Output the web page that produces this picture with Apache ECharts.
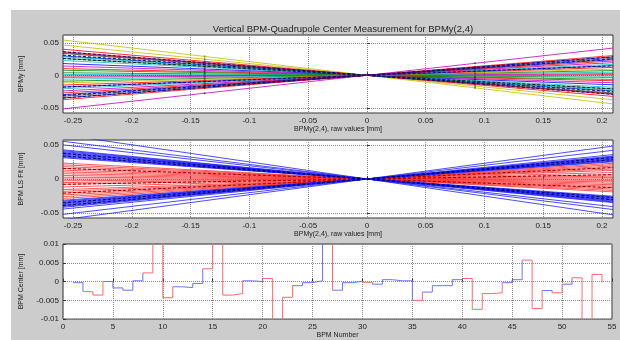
<!DOCTYPE html>
<html>
<head>
<meta charset="utf-8">
<script src="https://cdn.jsdelivr.net/npm/echarts@6/dist/echarts.min.js"></script>
<style>
  body { margin: 0; background: #fff; }
  #bg { position: absolute; left: 11px; top: 10px; width: 609px; height: 330px; background: #cccccc; }
  #chart { position: absolute; left: 0; top: 0; width: 620px; height: 340px; }
</style>
</head>
<body>
<div id="bg"></div>
<div id="chart"></div>
<script>
// x range of the two upper panels
const xRange = [-0.2585, 0.2094]
const markerX = [-0.138, 0.092]

// top panel: raw BPM readings, slope and colour of each line
const topSlopes = [-0.21, -0.18, -0.155, -0.14, -0.135, -0.13, -0.115, -0.11, -0.1, -0.088,
  -0.07, -0.055, -0.04, -0.03, -0.015, -0.005, 0.004, 0.012, 0.023, 0.035, 0.045,
  0.058, 0.07, 0.08, 0.093, 0.105, 0.115, 0.125, 0.135, 0.145, 0.2]
const topColors = ['y', 'y', 'r', 'm', 'r', 'k', 'b', 'c', 'g', 'c',
  'b', 'm', 'r', 'g', 'g', 'c', 'r', 'm', 'c', 'g', 'y',
  'r', 'b', 'c', 'm', 'r', 'b', 'k', 'b', 'r', 'm']
const topDashed = [-0.14, -0.12, -0.1, 0.07, 0.12, 0.135]
const matlab = { b: '#0000ff', g: '#008000', r: '#ff0000', c: '#00bfbf', m: '#bf00bf', y: '#bfbf00', k: '#404040' }

// middle panel: LS fit lines
const midBlue = [-0.25, -0.213, -0.193, -0.165, -0.16, -0.155, -0.15, -0.145, -0.14, -0.135,
  -0.13, -0.125, -0.12, 0.12, 0.125, 0.13, 0.135, 0.14, 0.145, 0.15, 0.155, 0.16, 0.17, 0.2, 0.23]
const midBlueDashed = [-0.145, -0.13, 0.135, 0.15]
const midRed = [-0.09, -0.08, -0.07, -0.06, -0.05, -0.04, -0.03, -0.02, -0.01, 0, 0.01,
  0.02, 0.03, 0.045, 0.06, 0.07, 0.08, 0.09, 0.1, 0.11]
const midRedDashed = [-0.06, 0.03, 0.08]

// bottom panel: BPM centre per BPM number (1..54), r = red, b = blue
const bpmCenter = [-0.0003, -0.0027, -0.0036, 0.0000, -0.0017, -0.0023, 0.0002, 0.0023, 0.02, -0.0043,
  -0.0014, -0.0016, -0.0005, 0.0034, 0.02, -0.0036, -0.0032, 0.0002, 0.0000, 0.0008,
  -0.02, -0.0042, -0.0011, -0.0003, 0.0002, 0.02, -0.0023, -0.0003, 0.0001, -0.0002,
  -0.0007, 0.0005, 0.0002, 0.0002, -0.005, -0.0028, -0.0011, -0.0011, 0.0005, 0.0008,
  -0.0074, -0.0032, -0.003, -0.0003, 0.0005, 0.0057, -0.0072, -0.0024, -0.003, -0.0007,
  0.001, -0.02, 0.0019, -0.0003]
const bpmFlag = ['b', 'r', 'r', 'b', 'b', 'b', 'b', 'r', 'r', 'r',
  'b', 'b', 'b', 'r', 'r', 'r', 'r', 'b', 'b', 'r',
  'r', 'r', 'b', 'b', 'b', 'r', 'b', 'b', 'b', 'r',
  'b', 'b', 'b', 'b', 'r', 'b', 'b', 'b', 'b', 'r',
  'r', 'r', 'r', 'b', 'b', 'r', 'r', 'b', 'r', 'b',
  'r', 'r', 'r', 'r']

const font = 'Liberation Sans'
const txt = '#222'

function fitLine(s, color, idx, dashed, width) {
  return {
    type: 'line', xAxisIndex: idx, yAxisIndex: idx,
    data: [[xRange[0], s * xRange[0]], [xRange[1], s * xRange[1]]],
    showSymbol: false, silent: true, animation: false,
    lineStyle: { color: color, width: width || 1, type: dashed ? [3, 2] : 'solid' }
  }
}

const series = []
topSlopes.forEach((s, i) => series.push(fitLine(s, matlab[topColors[i]], 0, false, 0.8)))
topDashed.forEach(s => series.push(fitLine(s, '#10105a', 0, true, 1)))
series.push({
  type: 'scatter', xAxisIndex: 0, yAxisIndex: 0, silent: true, animation: false,
  symbolSize: 2, itemStyle: { color: '#202040' },
  data: topSlopes.flatMap(s => markerX.map(x => [x, s * x]))
})
midRed.forEach(s => series.push(fitLine(s, '#ff3030', 1, false, 0.8)))
midRedDashed.forEach(s => series.push(fitLine(s, '#900000', 1, true, 1)))
midBlue.forEach(s => series.push(fitLine(s, '#2020ff', 1, false, 0.8)))
midBlueDashed.forEach(s => series.push(fitLine(s, '#000070', 1, true, 1)))

// stairs split into runs of the same colour
let start = 0
for (let i = 1; i <= bpmFlag.length; i++) {
  if (i === bpmFlag.length || bpmFlag[i] !== bpmFlag[start]) {
    const data = []
    for (let k = start; k <= Math.min(i, bpmCenter.length - 1); k++) data.push([k + 1, bpmCenter[k]])
    series.push({
      type: 'line', xAxisIndex: 2, yAxisIndex: 2, step: 'end', data: data,
      showSymbol: false, silent: true, animation: false,
      lineStyle: { color: bpmFlag[start] === 'r' ? '#ff6a6a' : '#7070ff', width: 1 }
    })
    start = i
  }
}

const axisCommon = {
  axisLine: { show: false },
  axisTick: { show: true, inside: true, length: 3, lineStyle: { color: '#333' } },
  splitLine: { show: true, lineStyle: { color: '#8a8a8a', type: 'dotted', width: 1 } },
  axisLabel: { color: txt, fontSize: 8, fontFamily: font, margin: 4 },
  nameTextStyle: { color: txt, fontSize: 7, fontFamily: font }
}

function xAx(idx, extra) {
  return Object.assign({ type: 'value', gridIndex: idx, nameLocation: 'middle' }, axisCommon, extra)
}
function yAx(idx, extra) {
  return Object.assign({ type: 'value', gridIndex: idx, nameLocation: 'middle', nameRotate: 90, nameGap: 38 }, axisCommon, extra)
}
const noEdge = { color: txt, fontSize: 8, fontFamily: font, margin: 4, showMinLabel: false, showMaxLabel: false }

const chart = echarts.init(document.getElementById('chart'))
chart.setOption({
  animation: false,
  title: {
    text: 'Vertical BPM-Quadrupole Center Measurement for BPMy(2,4)',
    left: 338, top: 19, textAlign: 'center',
    textStyle: { fontSize: 9.5, fontWeight: 'normal', color: txt, fontFamily: font }
  },
  grid: [
    { left: 63, top: 35, width: 550, height: 78, show: true, backgroundColor: '#fff', borderColor: '#333', borderWidth: 1 },
    { left: 63, top: 140, width: 550, height: 78, show: true, backgroundColor: '#fff', borderColor: '#333', borderWidth: 1 },
    { left: 63, top: 244, width: 549, height: 78, show: true, backgroundColor: '#fff', borderColor: '#333', borderWidth: 1 }
  ],
  xAxis: [
    xAx(0, { min: xRange[0], max: xRange[1], splitNumber: 9, name: 'BPMy(2,4), raw values [mm]', nameGap: 10, axisLabel: noEdge }),
    xAx(1, { min: xRange[0], max: xRange[1], splitNumber: 9, name: 'BPMy(2,4), raw values [mm]', nameGap: 10, axisLabel: noEdge }),
    xAx(2, { min: 0, max: 55, interval: 5, name: 'BPM Number', nameGap: 10 })
  ],
  yAxis: [
    yAx(0, { min: -0.058, max: 0.062, splitNumber: 2, name: 'BPMy [mm]', axisLabel: noEdge }),
    yAx(1, { min: -0.057, max: 0.057, splitNumber: 2, name: 'BPM LS Fit [mm]', axisLabel: noEdge }),
    yAx(2, { min: -0.01, max: 0.01, interval: 0.005, name: 'BPM Center [mm]' })
  ],
  series: series
})
</script>
</body>
</html>
